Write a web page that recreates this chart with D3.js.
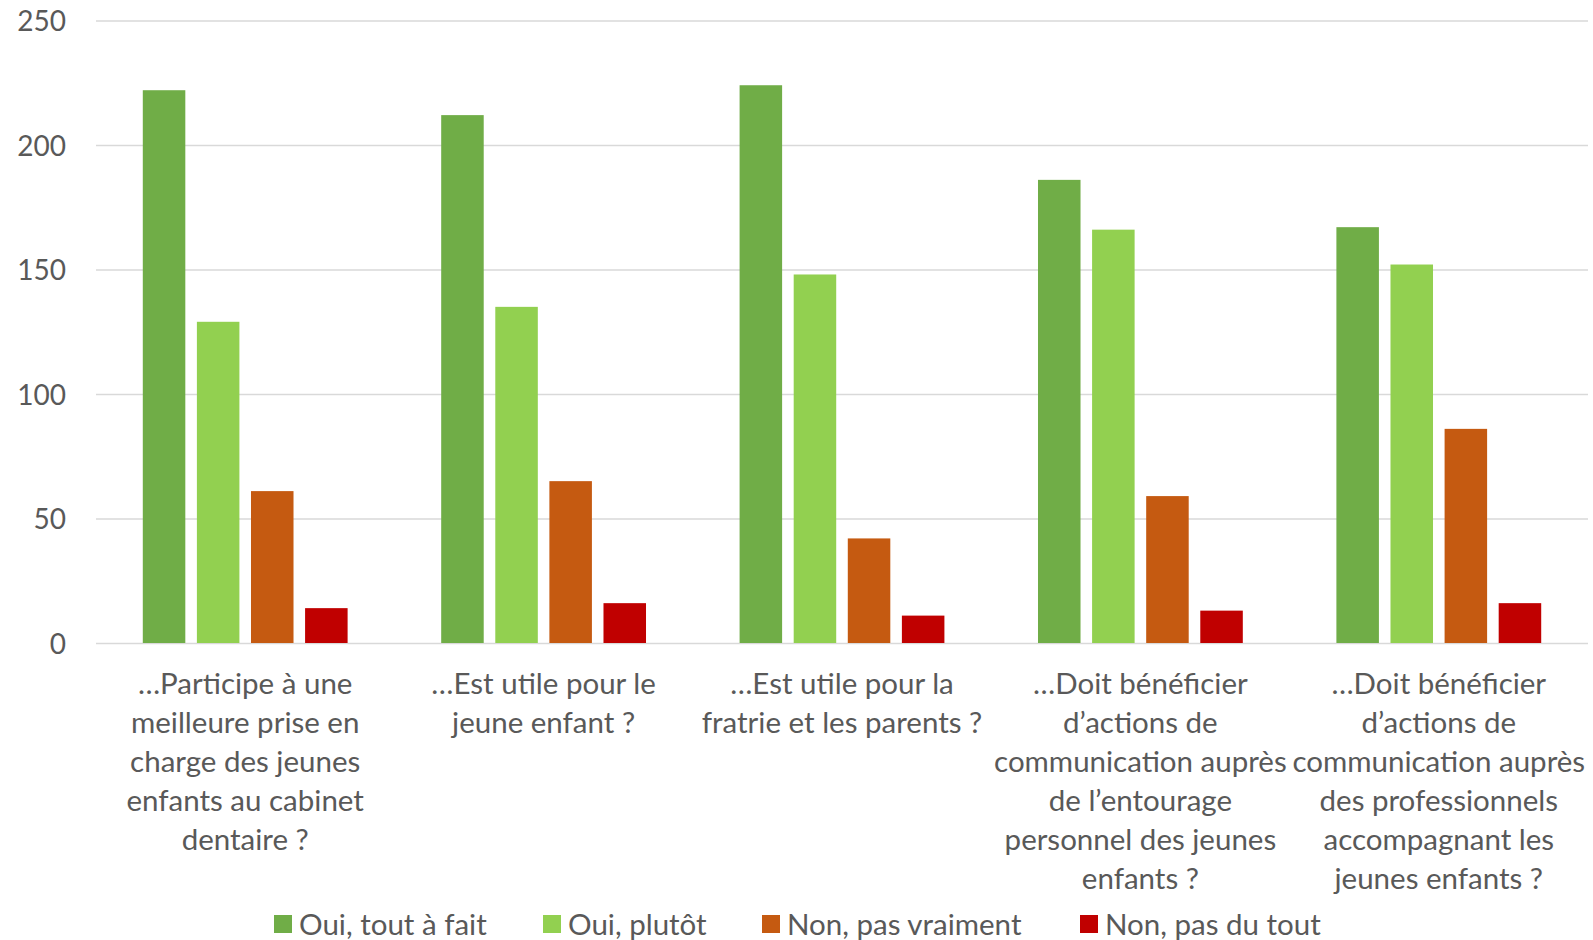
<!DOCTYPE html>
<html><head><meta charset="utf-8">
<script src="https://cdn.jsdelivr.net/npm/d3@7"></script>
<style>
html,body{margin:0;padding:0;background:#fff;}
svg{display:block;font-family:Lato, "Open Sans", sans-serif;}
</style></head>
<body>
<svg id="chart" width="1593" height="940"></svg>
<script>
const categories = [
  ["…Participe à une","meilleure prise en","charge des jeunes","enfants au cabinet","dentaire ?"],
  ["…Est utile pour le","jeune enfant ?"],
  ["…Est utile pour la","fratrie et les parents ?"],
  ["…Doit bénéficier","d’actions de","communication auprès","de l’entourage","personnel des jeunes","enfants ?"],
  ["…Doit bénéficier","d’actions de","communication auprès","des professionnels","accompagnant les","jeunes enfants ?"]
];
const seriesNames = ["Oui, tout à fait","Oui, plutôt","Non, pas vraiment","Non, pas du tout"];
const seriesColors = ["#70AD47","#92D050","#C55A11","#C00000"];
const ouiToutAFait   = [222,212,224,186,167];
const ouiPlutot      = [129,135,148,166,152];
const nonPasVraiment = [61,65,42,59,86];
const nonPasDuTout   = [14,16,11,13,16];
const yTicks = [0,50,100,150,200,250];

const seriesValues = [ouiToutAFait, ouiPlutot, nonPasVraiment, nonPasDuTout];
const svg = d3.select("#chart");
const mLeft = 96, mRight = 1588, mTop = 20.5, mBottom = 643;

const y = d3.scaleLinear().domain([0,250]).range([mBottom, mTop]);
const x0 = d3.scaleBand().domain(d3.range(categories.length)).range([mLeft, mRight]).padding(0);
const x1 = d3.scaleBand().domain(d3.range(seriesNames.length)).range([0, x0.bandwidth()])
  .paddingInner(0.214).paddingOuter(0.865);

// gridlines
const yAxis = d3.axisLeft(y).tickValues(yTicks).tickSize(-(mRight-mLeft)).tickPadding(30);
const gA = svg.append("g").attr("transform",`translate(${mLeft},0)`).call(yAxis);
gA.select(".domain").remove();
gA.selectAll(".tick line").attr("stroke","#d9d9d9").attr("stroke-width",1.5);
gA.selectAll(".tick text").attr("fill","#595959").style("font-size","28px")
  .attr("font-family","Lato, sans-serif").attr("dy","0.36em");

// bars
const groups = svg.append("g").selectAll("g").data(categories).join("g")
  .attr("transform",(d,i)=>`translate(${x0(i)},0)`);
groups.selectAll("rect").data((d,i)=>seriesValues.map((s,k)=>({k, v:s[i]}))).join("rect")
  .attr("x",d=>x1(d.k)).attr("width",x1.bandwidth())
  .attr("y",d=>y(d.v)).attr("height",d=>mBottom-y(d.v))
  .attr("fill",d=>seriesColors[d.k]);

// category labels
const labG = svg.append("g");
categories.forEach((lines,i)=>{
  const t = labG.append("text").attr("text-anchor","middle").attr("fill","#595959")
    .style("font-size","29.5px");
  lines.forEach((ln,j)=>{
    t.append("tspan").attr("x", x0(i)+x0.bandwidth()/2).attr("y", 683.5 + j*39).attr("dy","0.35em").text(ln);
  });
});

// legend
const legendX = [274, 543, 762, 1080];
const leg = svg.append("g");
seriesNames.forEach((n,k)=>{
  leg.append("rect").attr("x",legendX[k]).attr("y",915).attr("width",18).attr("height",18).attr("fill",seriesColors[k]);
  leg.append("text").attr("x",legendX[k]+25).attr("y",924.5).attr("dy","0.35em")
    .attr("fill","#595959").style("font-size","29.5px").text(n);
});
</script>
</body></html>
